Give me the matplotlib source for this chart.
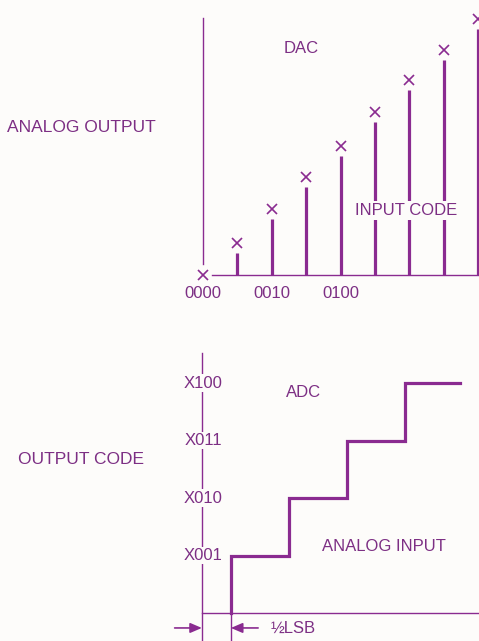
"""DAC / ADC transfer characteristic sketch (bar-and-X DAC, staircase ADC)."""

import matplotlib
matplotlib.use("Agg")
import matplotlib.pyplot as plt
import numpy as np

LINE = "#8a2b90"
TEXT = "#7d2f84"
BG = "#fdfcfa"

plt.rcParams["font.family"] = ["Liberation Sans", "DejaVu Sans"]

# DAC: input code -> analog output (in LSB)
dac_codes = [0, 1, 2, 3, 4, 5, 6, 7, 8]
dac_output = [0, 1.0, 2.06, 3.06, 4.03, 5.09, 6.09, 7.03, 8.0]
dac_tick_codes = [0, 2, 4]
dac_tick_labels = ["0000", "0010", "0100"]

# ADC: analog input (in LSB) -> output code
adc_edges = [0.5, 1.5, 2.5, 3.5]
adc_levels = [1, 2, 3, 4]
adc_end = 4.45
adc_tick_labels = ["X001", "X010", "X011", "X100"]

W, H = 479, 641
fig = plt.figure(figsize=(W / 100, H / 100), dpi=100, facecolor=BG)


def px_axes(x0, y0, x1, y1):
    ax = fig.add_axes([x0 / W, 1 - y1 / H, (x1 - x0) / W, (y1 - y0) / H])
    ax.set_axis_off()
    ax.patch.set_alpha(0)
    return ax


# ---------------- DAC
ax = px_axes(170, 0, 479, 310)
ax.set_xlim(-0.96, 8.02)
ax.set_ylim(-1.09, 8.59)
ax.plot([0, 0], [0.35, 8.03], color=LINE, lw=1.0)
ax.plot([0.26, 8.02], [0, 0], color=LINE, lw=1.0)
gap = 0.31
ax.vlines(dac_codes[1:], 0, np.array(dac_output[1:]) - gap, color=LINE, lw=2.3)
ax.plot(dac_codes, dac_output, ls="none", marker="x", ms=7.5, mew=1.2,
        color=LINE, clip_on=False)
for c, lab in zip(dac_tick_codes, dac_tick_labels):
    ax.text(c, -0.56, lab, ha="center", va="center", fontsize=12, color=TEXT)
ax.text(2.85, 7.09, "DAC", ha="center", va="center", fontsize=12, color=TEXT)
ax.text(5.9, 2.03, "INPUT CODE", ha="center", va="center", fontsize=12,
        color=TEXT, bbox=dict(facecolor=BG, edgecolor="none", pad=1.5))

# ---------------- ADC
ax = px_axes(170, 340, 479, 641)
ax.set_xlim(-0.55, 4.78)
ax.set_ylim(-0.487, 4.75)
ax.plot([0, 0], [-0.49, 4.52], color=LINE, lw=1.0)
ax.plot([0, 4.78], [0, 0], color=LINE, lw=1.0)
for lvl, lab in zip(adc_levels, adc_tick_labels):
    ax.text(0.02, lvl, lab, ha="center", va="center", fontsize=12, color=TEXT,
            bbox=dict(facecolor=BG, edgecolor="none", pad=1.0))
xs = np.repeat(adc_edges + [adc_end], 2)[:-1]
ys = np.concatenate([[0], np.repeat(adc_levels, 2)])
ax.plot(xs, ys, color=LINE, lw=2.3, solid_joinstyle="miter")
ax.plot([adc_edges[0]] * 2, [-0.49, 0], color=LINE, lw=1.0)

ya = -0.26
arrow = dict(arrowstyle="-|>,head_length=0.7,head_width=0.3", color=LINE,
             lw=1.2, shrinkA=0, shrinkB=0)
ax.annotate("", xy=(0, ya), xytext=(-0.47, ya), arrowprops=arrow)
ax.annotate("", xy=(adc_edges[0], ya), xytext=(0.97, ya), arrowprops=arrow)
ax.text(1.19, ya, "½LSB", ha="left", va="center", fontsize=12, color=TEXT)
ax.text(1.76, 3.83, "ADC", ha="center", va="center", fontsize=12, color=TEXT)
ax.text(3.14, 1.15, "ANALOG INPUT", ha="center", va="center", fontsize=12,
        color=TEXT)

# ---------------- side labels
fig.text(7 / W, 1 - 127 / H, "ANALOG OUTPUT", ha="left", va="center",
         fontsize=12.5, color=TEXT)
fig.text(18 / W, 1 - 459 / H, "OUTPUT CODE", ha="left", va="center",
         fontsize=12.5, color=TEXT)

fig.savefig("out.png", dpi=100, facecolor=BG)
